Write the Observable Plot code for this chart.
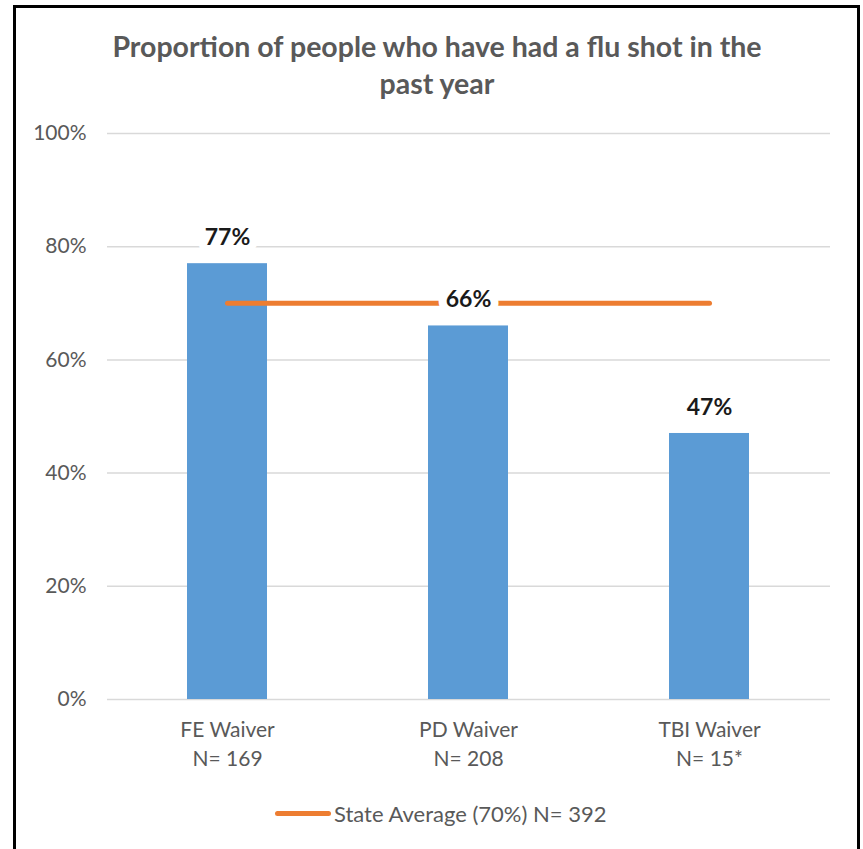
<!DOCTYPE html>
<html><head><meta charset="utf-8">
<script src="https://cdn.jsdelivr.net/npm/d3@7"></script>
<script src="https://cdn.jsdelivr.net/npm/@observablehq/plot@0.6"></script>
<style>
body{margin:0;background:#fff;width:863px;height:849px;overflow:hidden;position:relative;font-family:Lato,"Open Sans",sans-serif;}
#frame{position:absolute;left:13px;top:5px;width:847px;height:900px;border:3px solid #000;box-sizing:border-box;}
#title{position:absolute;left:0;width:874px;top:28px;text-align:center;font-weight:bold;font-size:28.5px;line-height:37px;color:#595959;}
#chart{position:absolute;left:0;top:110px;}
#legend{position:absolute;left:275px;top:798px;height:30px;display:flex;align-items:center;font-size:22px;color:#595959;}
#legend .sw{width:56px;height:5px;border-radius:3px;background:#ed7d31;margin-right:3px;}
</style>
</head><body>
<div id="frame"></div>
<div id="title">Proportion of people who have had a flu shot in the<br>past year</div>
<div id="chart"></div>
<div id="legend"><span class="sw"></span><span id="legtext"></span></div>
<script>
const categories = ["FE Waiver", "PD Waiver", "TBI Waiver"];
const sampleSizes = ["N= 169", "N= 208", "N= 15*"];
const values = [77, 66, 47];
const stateAverage = 70;
const stateLabel = "State Average (70%) N= 392";
const yTicks = [0, 20, 40, 60, 80, 100];

const data = categories.map((c, i) => ({category: c, value: values[i], avg: stateAverage}));

const chart = Plot.plot({
  width: 863,
  height: 680,
  marginLeft: 107,
  marginRight: 33,
  marginTop: 23,
  marginBottom: 91,
  style: {fontFamily: "Lato, 'Open Sans', sans-serif", background: "transparent", overflow: "visible"},
  x: {domain: categories, paddingInner: 0.668, paddingOuter: 0.334, axis: null},
  y: {domain: [0, 100], axis: null},
  marks: [
    Plot.gridY(yTicks, {stroke: "#d9d9d9", strokeOpacity: 1, strokeWidth: 1.5}),
    Plot.barY(data, {x: "category", y: "value", fill: "#5b9bd5"}),
    Plot.lineY(data, {x: "category", y: "avg", stroke: "#ed7d31", strokeWidth: 5, strokeLinecap: "round"}),
    Plot.text(data, {x: "category", y: "value", text: d => d.value + "%", dy: -26,
      fontWeight: "bold", fontSize: 23, fill: "#1a1a1a", stroke: "white", strokeWidth: 16}),
    Plot.axisY(yTicks, {tickSize: 0, tickPadding: 21, tickFormat: d => d + "%", fontSize: 21, color: "#595959", label: null}),
    Plot.axisX({tickSize: 0, tickPadding: 17, lineHeight: 1.38, label: null,
      tickFormat: d => d + "\n" + sampleSizes[categories.indexOf(d)], fontSize: 21, color: "#595959"})
  ]
});
document.getElementById("chart").appendChild(chart);
document.getElementById("legtext").textContent = stateLabel;
</script>
</body></html>
